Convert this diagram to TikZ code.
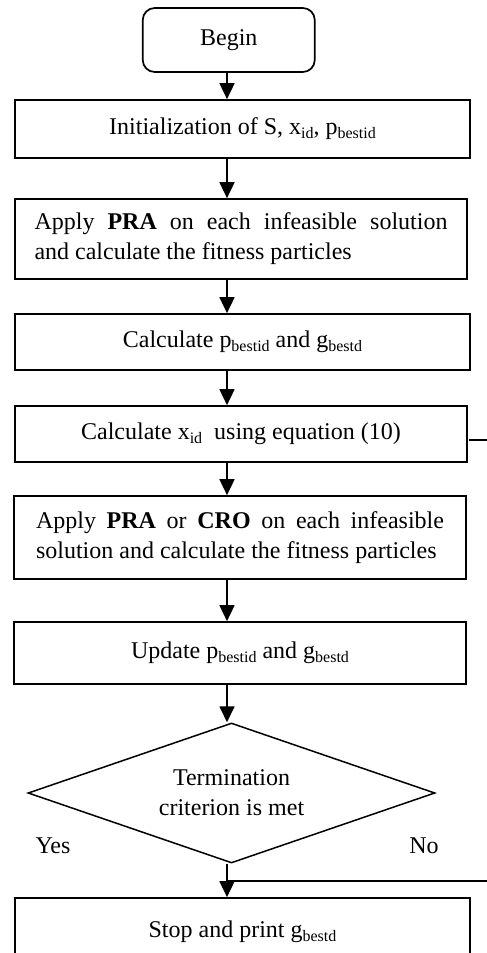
\documentclass[tikz,border=0pt]{standalone}
\usepackage{fontspec}
\setmainfont{Liberation Serif}
\usetikzlibrary{arrows.meta,shapes.geometric}
% smaller, lowered subscript text
\newcommand\lowsub[1]{\raisebox{-4pt}{\fontsize{16}{16}\selectfont #1}}
\begin{document}
\begin{tikzpicture}[x=1pt,y=-1pt,
  txt/.style={font=\fontsize{24}{30}\selectfont},
  box/.style={txt,draw,line width=1.7pt,inner sep=0pt,align=center},
  parbox/.style={box,text width=413pt,align=justify},
  flow/.style={line width=1.7pt,-{Triangle[width=15pt,length=16pt]}},
  plain/.style={line width=1.7pt}]
\useasboundingbox (0,0) rectangle (487,953);
\clip (0,0) rectangle (487,953);
\fill[white] (0,0) rectangle (487,953);

% vertical flow line and the exit towards the right
\coordinate (spine) at (227,0);
\coordinate (rightout) at (500,0);

\node[box,rounded corners=12pt,minimum width=172pt,minimum height=64pt] (begin) at (228.75,40) {Begin};
\node[box,minimum width=455pt,minimum height=58pt] (init) at (242.5,129)
  {Initialization of S, x\lowsub{id}, p\lowsub{bestid}};
\node[parbox,minimum width=452pt,minimum height=80pt] (pra) at (241,239)
  {Apply \textbf{PRA} on each infeasible solution\linebreak and calculate the fitness particles};
\node[box,minimum width=455pt,minimum height=56pt] (calc) at (242.5,342)
  {Calculate p\lowsub{bestid} and g\lowsub{bestd}};
\node[box,minimum width=452pt,minimum height=56pt] (xid) at (241,434)
  {Calculate x\lowsub{id}~ using equation (10)};
\node[parbox,text width=408pt,minimum width=452pt,minimum height=83pt] (cro) at (240,537.5)
  {Apply \textbf{PRA} or \textbf{CRO} on each infeasible\linebreak solution and calculate the fitness particles};
\node[box,minimum width=452pt,minimum height=62pt] (upd) at (240,653)
  {Update p\lowsub{bestid} and g\lowsub{bestd}};
\node[box,diamond,aspect=2.9,line width=1.5pt,minimum width=407pt,minimum height=140pt] (dec) at (231.5,793)
  {Termination\\criterion is met};
\node[box,minimum width=455pt,minimum height=68pt] (stop) at (242.5,932)
  {Stop and print g\lowsub{bestd}};

\node[txt] (yes) at (53,846) {Yes};
\node[txt] (no) at (424,846) {No};

% main flow
\draw[flow] (begin.south -| spine) -- (init.north -| spine);
\draw[flow] (init.south -| spine) -- (pra.north -| spine);
\draw[flow] (pra.south -| spine) -- (calc.north -| spine);
\draw[flow] (calc.south -| spine) -- (xid.north -| spine);
\draw[flow] (xid.south -| spine) -- (cro.north -| spine);
\draw[flow] (cro.south -| spine) -- (upd.north -| spine);
\draw[flow] (upd.south -| spine) -- (dec.north -| spine);
\draw[flow] (dec.south -| spine) -- (stop.north -| spine);

% "No" branch running back up the right side
\coordinate (nojoin) at (227,881);
\draw[plain] (nojoin) -- (nojoin -| rightout);
\coordinate (backin) at (469,440);
\draw[plain] (backin) -- (backin -| rightout);
\end{tikzpicture}
\end{document}
